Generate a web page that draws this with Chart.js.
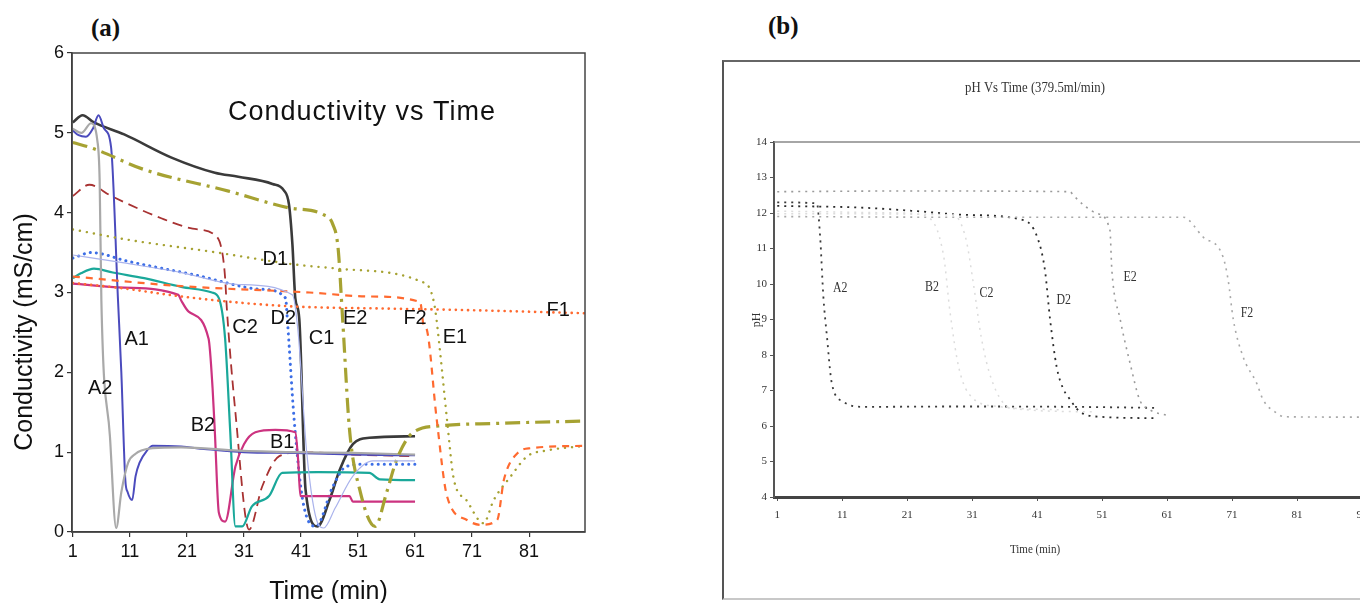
<!DOCTYPE html>
<html>
<head>
<meta charset="utf-8">
<script src="https://cdn.jsdelivr.net/npm/chart.js@4.4.0/dist/chart.umd.min.js"></script>
<style>
  html, body { margin: 0; padding: 0; background: #fff; width: 1360px; height: 603px; overflow: hidden; }
  #chartA { position: absolute; left: 0; top: 0; }
  #boxB { position: absolute; left: 722px; top: 60px; width: 700px; height: 536px;
          border-left: 2px solid #555; border-top: 2px solid #666; border-bottom: 2px solid #c8c8c8; }
  #chartB { position: absolute; left: 724px; top: 62px; }
  .tag { position: absolute; font-family: "Liberation Serif", serif; font-weight: bold; font-size: 25px; color: #111; }
</style>
</head>
<body>
<div class="tag" style="left:91px;top:14px">(a)</div>
<div class="tag" style="left:768px;top:12px">(b)</div>
<canvas id="chartA" width="600" height="625"></canvas>
<div id="boxB"></div>
<canvas id="chartB" width="640" height="541"></canvas>
<script>
// ---- (a) conductivity, [time (min), mS/cm] ----
const condA1 = [[1,5.03],[2,4.97],[3.3,4.95],[4.5,5.05],[5.5,5.22],[6.5,5.05],[7.7,4.82],[8.9,2.93],[9.5,2.0],[10.2,0.65],[10.6,0.5],[11.4,0.4],[12,0.7],[12.7,0.87],[14,1.02],[15,1.08],[20,1.07],[24,1.04],[31,1.0],[40,0.99],[50,0.97],[61,0.96]];
const condA2 = [[1,5.05],[2.5,5.0],[4.2,5.12],[5.3,4.9],[5.7,4.4],[6,2.9],[7.5,1.2],[8.6,0.05],[9.5,0.5],[10.7,0.87],[12,0.98],[13,1.02],[15,1.05],[20,1.06],[30,1.02],[40,1.0],[50,0.99],[61,0.97]];
const condB1 = [[1,3.18],[2.4,3.24],[4.7,3.3],[8,3.25],[13.5,3.18],[20,3.07],[25.4,3.0],[26.6,2.93],[27.7,2.42],[28.6,1.25],[29.5,0.07],[30.7,0.07],[32.4,0.32],[35.4,0.45],[37.7,0.74],[44,0.75],[53,0.74],[54.8,0.66],[61,0.65]];
const condB2 = [[1,3.11],[10,3.06],[19.5,2.97],[20,2.9],[21.3,2.76],[24.8,2.42],[25.5,1.8],[25.9,1.25],[26.6,0.24],[27.7,0.13],[29.5,0.82],[31,1.1],[33,1.25],[36.5,1.28],[40,1.25],[40.5,0.9],[40.9,0.45],[49.5,0.45],[50.1,0.38],[61,0.38]];
const condC1 = [[1,5.13],[2.7,5.22],[4.7,5.13],[10,4.98],[18.3,4.69],[25.9,4.5],[30,4.45],[36,4.36],[38,4.28],[38.9,4.1],[39.5,3.6],[40,2.93],[40.7,2.67],[41.8,0.53],[43.9,0.07],[46,0.4],[47.8,0.78],[50.1,1.1],[53,1.18],[61,1.2]];
const condC2 = [[1,4.21],[3.9,4.35],[7.7,4.21],[16.5,3.93],[22,3.8],[25.9,3.72],[27.2,3.5],[27.7,3.18],[28,2.8],[29.5,1.5],[31.9,0.03],[34.2,0.57],[37.2,0.95],[41.3,1.0],[50,0.97],[61,0.95]];
const condD1 = [[1,3.79],[10.7,3.66],[25.4,3.51],[40,3.35],[47.2,3.3],[61.9,3.14],[63.7,3.03],[64.5,2.8],[65.4,2.25],[66.6,1.41],[67.8,0.66],[70,0.4],[73,0.11],[74.8,0.4],[77.8,0.7],[80.7,0.95],[84,1.02],[91,1.08]];
const condD2 = [[1,3.43],[4.2,3.5],[10.7,3.39],[22.4,3.22],[34.2,3.04],[38.3,2.93],[38.6,2.67],[39.8,1.41],[41.3,0.4],[43.6,0.07],[46.6,0.57],[48.9,0.82],[53,0.85],[61,0.85]];
const condD3 = [[1,3.47],[10,3.37],[20,3.25],[30,3.1],[39.5,2.97],[40.5,2.5],[42,1.0],[44,0.1],[45,0.05],[47,0.3],[50.1,0.7],[53.6,0.89],[61,0.89]];
const condE2 = [[1,4.88],[4.7,4.8],[13.5,4.54],[28.3,4.27],[38.9,4.06],[44.8,3.98],[46.6,3.85],[47.5,3.56],[48.3,2.67],[49.5,1.29],[51.3,0.53],[54,0.07],[56,0.49],[57.8,0.91],[60.7,1.25],[65.4,1.33],[75,1.36],[91,1.39]];
const condF1 = [[1,3.12],[10,3.05],[20,2.95],[32.3,2.86],[41.3,2.82],[55,2.8],[70,2.78],[91,2.74]];
const condF2 = [[1,3.2],[20,3.08],[42.5,3.0],[53,2.95],[61.9,2.88],[62.5,2.59],[63,2.55],[64.8,1.41],[66.6,0.45],[70.1,0.15],[72.5,0.09],[75.4,0.15],[76.6,0.66],[79,0.99],[81.3,1.05],[91,1.08]];
const condTicksX = [1, 11, 21, 31, 41, 51, 61, 71, 81];
const condTicksY = [0, 1, 2, 3, 4, 5, 6];
// curve labels, [text, time, value]
const condLabels = [['A1',12.2,2.41],['A2',5.8,1.8],['B2',23.8,1.34],['B1',37.7,1.12],['C2',31.2,2.56],['D2',37.9,2.68],['C1',44.6,2.43],['E2',50.5,2.68],['F2',61.0,2.68],['E1',68.0,2.44],['D1',36.5,3.41],['F1',86.1,2.78]];

// ---- (b) pH, [time (min), pH] ----
const phA2 = [[1,12.3],[7.1,12.27],[7.6,11.33],[8.1,9.64],[8.65,8.52],[9.4,7.2],[11.2,6.68],[14.3,6.54],[30,6.55],[46.1,6.54],[59.5,6.51]];
const phB2 = [[1,12.05],[20,12.0],[24,11.9],[26.6,10.8],[27.6,9.2],[29,7.6],[31,6.8],[35,6.55],[45,6.45]];
const phC2 = [[1,11.98],[28,11.95],[30,11.3],[31.2,10.0],[32.4,8.5],[34,7.3],[37,6.5],[50,6.4]];
const phD2 = [[1,12.2],[14,12.15],[22.6,12.05],[29.7,11.95],[38.9,11.8],[41,11.33],[42.2,10.39],[43,8.99],[44,7.67],[45,7.05],[45.6,6.87],[47.6,6.4],[50.7,6.26],[58.9,6.22]];
const phE2 = [[1,12.6],[20,12.62],[46.1,12.6],[46.5,12.51],[50.2,11.99],[52.2,11.52],[52.5,10.39],[53.8,8.99],[55.3,7.77],[56.8,6.73],[58.4,6.45],[61,6.3]];
const phF2 = [[1,11.9],[30,11.88],[63.5,11.88],[66.5,11.33],[69.6,10.77],[70.4,10.11],[71.2,8.99],[72.7,7.95],[74.8,7.2],[75.8,6.73],[77.9,6.36],[79,6.26],[91,6.25]];
const phTicksX = [1, 11, 21, 31, 41, 51, 61, 71, 81, 91];
const phTicksY = [4, 5, 6, 7, 8, 9, 10, 11, 12, 13, 14];
const phLabels = [['A2',10.7,9.88],['B2',24.8,9.92],['C2',33.2,9.73],['D2',45.1,9.55],['E2',55.3,10.2],['F2',73.3,9.17]];

const SANS = '"Liberation Sans", Arial, sans-serif';
const SERIF = '"Liberation Serif", "Times New Roman", serif';

// draws frame, titles and curve names
const textPlugin = {
  id: 'texts',
  afterDraw(chart, args, opts) {
    const ctx = chart.ctx;
    const a = chart.chartArea;
    ctx.save();
    if (opts.frame) {
      ctx.strokeStyle = opts.frame.color;
      ctx.lineWidth = opts.frame.width;
      if (opts.frame.topOnly) {
        ctx.beginPath(); ctx.moveTo(a.left, a.top); ctx.lineTo(a.right, a.top); ctx.stroke();
      } else {
        ctx.strokeRect(a.left, a.top, a.right - a.left, a.bottom - a.top);
      }
    }
    ctx.textAlign = 'center';
    ctx.textBaseline = 'middle';
    ctx.fillStyle = opts.color;
    ctx.font = opts.labelFont;
    for (const [txt, t, v] of opts.labels) {
      const x = chart.scales.x.getPixelForValue(t);
      const y = chart.scales.y.getPixelForValue(v);
      ctx.save();
      ctx.translate(x, y);
      ctx.scale(opts.labelSx || 1, 1);
      ctx.fillText(txt, 0, 0);
      ctx.restore();
    }
    for (const it of opts.texts) {
      ctx.save();
      ctx.font = it.font;
      if (it.spacing) ctx.letterSpacing = it.spacing;
      ctx.translate(it.x, it.y);
      if (it.rot) ctx.rotate(it.rot);
      ctx.scale(it.sx || 1, 1);
      ctx.fillText(it.text, 0, 0);
      ctx.restore();
    }
    ctx.restore();
  }
};

function line(data, color, width, dash, cap) {
  return {
    data: data,
    borderColor: color,
    borderWidth: width,
    borderDash: dash || [],
    borderCapStyle: cap || 'butt',
    pointRadius: 0,
    cubicInterpolationMode: 'monotone',
    fill: false
  };
}

// keep the plot edge where it is, let the last tick label run off
function noLabelPad(s) {
  s.paddingLeft = 0;
  s.paddingRight = 0;
}

new Chart(document.getElementById('chartA'), {
  type: 'line',
  data: {
    datasets: [
      line(condD3, '#aab3ec', 1.2),
      line(condF1, '#ff6a30', 2.6, [0.1, 6], 'round'),
      line(condF2, '#ff6a30', 2.2, [7, 6]),
      line(condD1, '#a6a232', 2.4, [0.1, 7], 'round'),
      line(condE2, '#a6a232', 3.2, [15, 6, 3, 6]),
      line(condA2, '#a9a9a9', 2.2),
      line(condA1, '#4b4bbd', 2),
      line(condB1, '#1aa89a', 2.2),
      line(condB2, '#cc3380', 2.2),
      line(condC2, '#a83232', 1.8, [10, 6]),
      line(condD2, '#3c6ee6', 3, [0.1, 6], 'round'),
      line(condC1, '#3a3a3a', 2.6)
    ]
  },
  options: {
    responsive: false,
    animation: false,
    events: [],
    devicePixelRatio: 1,
    layout: { padding: { left: 0, top: 53, right: 15, bottom: 0 } },
    scales: {
      x: {
        type: 'linear', min: 0.85, max: 90.8,
        afterFit: (s) => { s.height = 93; noLabelPad(s); },
        afterBuildTicks: (s) => { s.ticks = condTicksX.map(v => ({ value: v })); },
        ticks: { autoSkip: false, maxRotation: 0, padding: 4, color: '#111', font: { family: SANS, size: 18 } },
        grid: { drawOnChartArea: false, tickLength: 5, color: '#333', lineWidth: 1.2 },
        border: { color: '#333', width: 1.5 },
        title: { display: true, text: 'Time (min)', color: '#111', font: { family: SANS, size: 25 }, padding: { top: 0, bottom: 18 } }
      },
      y: {
        type: 'linear', min: 0, max: 6,
        afterFit: (s) => { s.width = 72; },
        afterBuildTicks: (s) => { s.ticks = condTicksY.map(v => ({ value: v })); },
        ticks: { padding: 3, color: '#111', font: { family: SANS, size: 18 } },
        grid: { drawOnChartArea: false, tickLength: 5, color: '#333', lineWidth: 1.2 },
        border: { color: '#333', width: 1.5 }
      }
    },
    plugins: {
      legend: { display: false },
      tooltip: { enabled: false },
      texts: {
        frame: { color: '#444', width: 1.5 },
        color: '#111',
        labelFont: '20px ' + SANS,
        labels: condLabels,
        texts: [
          { text: 'Conductivity vs Time', x: 362, y: 113, font: '27px ' + SANS, spacing: '1px' },
          { text: 'Conductivity (mS/cm)', x: 25, y: 332, font: '25px ' + SANS, rot: -Math.PI / 2 }
        ]
      }
    }
  },
  plugins: [textPlugin]
});

new Chart(document.getElementById('chartB'), {
  type: 'line',
  data: {
    datasets: [
      line(phB2, '#dcdcdc', 1.5, [2, 5]),
      line(phC2, '#dcdcdc', 1.5, [2, 5]),
      line(phE2, '#9a9a9a', 1.6, [2, 5]),
      line(phF2, '#a8a8a8', 1.6, [2, 5]),
      line(phA2, '#3a3a3a', 1.8, [2, 5]),
      line(phD2, '#2a2a2a', 1.8, [2, 5])
    ]
  },
  options: {
    responsive: false,
    animation: false,
    events: [],
    devicePixelRatio: 1,
    layout: { padding: { left: 0, top: 80, right: 2, bottom: 0 } },
    scales: {
      x: {
        type: 'linear', min: 0.5, max: 91,
        afterFit: (s) => { s.height = 106; noLabelPad(s); },
        afterBuildTicks: (s) => { s.ticks = phTicksX.map(v => ({ value: v })); },
        ticks: { autoSkip: false, maxRotation: 0, padding: 8, color: '#333', font: { family: SERIF, size: 11 } },
        grid: { drawOnChartArea: false, tickLength: 4, color: '#555' },
        border: { color: '#444', width: 3 }
      },
      y: {
        type: 'linear', min: 4, max: 14,
        afterFit: (s) => { s.width = 50; },
        afterBuildTicks: (s) => { s.ticks = phTicksY.map(v => ({ value: v })); },
        ticks: { padding: 3, color: '#333', font: { family: SERIF, size: 11 } },
        grid: { drawOnChartArea: false, tickLength: 4, color: '#555' },
        border: { color: '#555', width: 2 }
      }
    },
    plugins: {
      legend: { display: false },
      tooltip: { enabled: false },
      texts: {
        frame: { color: '#888', width: 1.5, topOnly: true },
        color: '#333',
        labelFont: '14px ' + SERIF,
        labelSx: 0.85,
        labels: phLabels,
        texts: [
          { text: 'pH Vs Time (379.5ml/min)', x: 311, y: 26, font: '15px ' + SERIF, sx: 0.85 },
          { text: 'Time (min)', x: 311, y: 488, font: '13px ' + SERIF, sx: 0.85 },
          { text: 'pH', x: 33, y: 258, font: '12px ' + SERIF, rot: -Math.PI / 2 }
        ]
      }
    }
  },
  plugins: [textPlugin]
});
</script>
</body>
</html>
